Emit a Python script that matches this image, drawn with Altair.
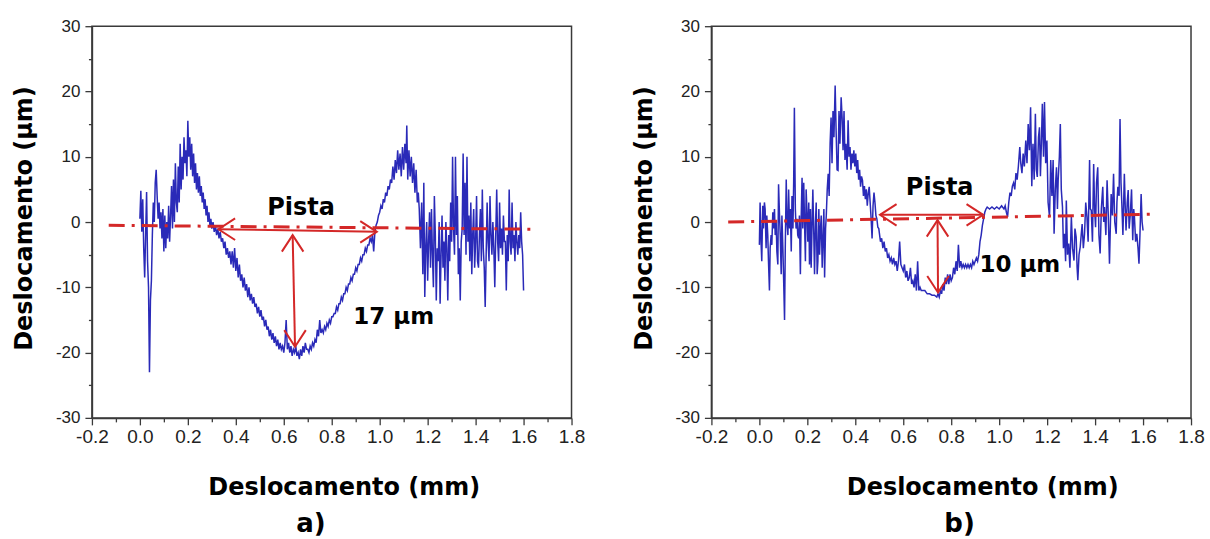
import altair as alt
import pandas as pd

# ---------------- panel a profile (mm, um) ----------------
xa = [0.000, 0.004, 0.008, 0.012, 0.016, 0.020, 0.024, 0.028, 0.032, 0.036, 0.040, 0.044, 0.048, 0.052, 0.056,
      0.060, 0.064, 0.068, 0.072, 0.076, 0.080, 0.084, 0.088, 0.092, 0.096, 0.100, 0.104, 0.108, 0.112, 0.116,
      0.120, 0.124, 0.128, 0.132, 0.136, 0.140, 0.144, 0.148, 0.152, 0.156, 0.160, 0.164, 0.168, 0.172, 0.176,
      0.180, 0.184, 0.188, 0.192, 0.196, 0.200, 0.204, 0.208, 0.212, 0.216, 0.220, 0.224, 0.228, 0.232, 0.236,
      0.240, 0.244, 0.248, 0.252, 0.256, 0.260, 0.264, 0.268, 0.272, 0.276, 0.280, 0.284, 0.288, 0.292, 0.296,
      0.300, 0.305, 0.310, 0.315, 0.320, 0.325, 0.330, 0.335, 0.340, 0.345, 0.350, 0.355, 0.360, 0.365, 0.370,
      0.375, 0.380, 0.385, 0.390, 0.395, 0.400, 0.405, 0.410, 0.415, 0.420, 0.425, 0.430, 0.435, 0.440, 0.445,
      0.450, 0.455, 0.460, 0.465, 0.470, 0.475, 0.480, 0.485, 0.490, 0.495, 0.500, 0.505, 0.510, 0.515, 0.520,
      0.525, 0.530, 0.535, 0.540, 0.545, 0.550, 0.555, 0.560, 0.565, 0.570, 0.575, 0.580, 0.585, 0.590, 0.595,
      0.600, 0.605, 0.610, 0.615, 0.620, 0.625, 0.630, 0.635, 0.640, 0.645, 0.650, 0.655, 0.660, 0.665, 0.670,
      0.675, 0.680, 0.685, 0.690, 0.695, 0.700, 0.705, 0.710, 0.715, 0.720, 0.725, 0.730, 0.735, 0.740, 0.745,
      0.750, 0.755, 0.760, 0.765, 0.770, 0.775, 0.780, 0.785, 0.790, 0.795, 0.800, 0.805, 0.810, 0.815, 0.820,
      0.825, 0.830, 0.835, 0.840, 0.845, 0.850, 0.855, 0.860, 0.865, 0.870, 0.875, 0.880, 0.885, 0.890, 0.895,
      0.900, 0.905, 0.910, 0.915, 0.920, 0.925, 0.930, 0.935, 0.940, 0.945, 0.950, 0.955, 0.960, 0.965, 0.970,
      0.975, 0.980, 0.985, 0.990, 0.995, 1.000, 1.005, 1.010, 1.015, 1.020, 1.025, 1.030, 1.035, 1.040, 1.045,
      1.050, 1.055, 1.060, 1.065, 1.070, 1.075, 1.080, 1.085, 1.090, 1.095, 1.100, 1.105, 1.110, 1.113, 1.117,
      1.122, 1.127, 1.132, 1.137, 1.142, 1.147, 1.152, 1.157, 1.161,
      1.165, 1.170, 1.175, 1.180, 1.184, 1.188, 1.192, 1.196, 1.200, 1.204, 1.208, 1.212, 1.216, 1.220, 1.224,
      1.228, 1.232, 1.236, 1.240, 1.244, 1.248, 1.252, 1.256, 1.260, 1.264, 1.268, 1.272, 1.276, 1.280, 1.284,
      1.288, 1.292, 1.296, 1.300, 1.304, 1.308, 1.312, 1.316, 1.320, 1.324, 1.328, 1.332, 1.336, 1.340, 1.344,
      1.348, 1.352, 1.356, 1.360, 1.364, 1.368, 1.372, 1.376, 1.380, 1.384, 1.388, 1.392, 1.396, 1.400, 1.404,
      1.408, 1.412, 1.416, 1.420, 1.424, 1.428, 1.432, 1.436, 1.440, 1.444, 1.448, 1.452, 1.456, 1.460, 1.464,
      1.468, 1.472, 1.476, 1.480, 1.484, 1.488, 1.492, 1.496, 1.500, 1.504, 1.508, 1.512, 1.516, 1.520, 1.524,
      1.528, 1.532, 1.536, 1.540, 1.544, 1.548, 1.552, 1.556, 1.560, 1.564, 1.568, 1.572, 1.576, 1.580, 1.584,
      1.588, 1.592, 1.596, 1.600]
ya = [0.5, 4.8, -1.5, 3.5, -4, -8.5, -2, 4.6, -6, -10, -23, -12, -9, -2, 3,
      0, 6, 8, 4, 0.5, 3, -1, 1.5, -2.5, 2, -4.5, 1, -4, 0, -2.5,
      2.5, -3, 1, 5.5, -1, 6.5, 0, 9, 3, 1.5, 8.5, 3, 12, 5, 10,
      6.5, 13, 9, 11, 7, 15.5, 10, 13, 8, 12, 7, 10.5, 6, 9, 5,
      7.5, 4.5, 7, 4, 5.5, 3, 4.5, 2, 3.5, 1, 2.5, 0, 1.5, -0.5, 0.5,
      -1, 0, -1.5, -0.5, -2, -1, -2.5, -1.5, -3, -2.5, -4, -3, -5, -4, -5.5,
      -4.5, -6.5, -4.5, -7, -4, -7.5, -5.5, -8.5, -6.5, -9, -8, -10, -8.5, -10.5, -9.5,
      -11.5, -10, -12, -11, -12.5, -11.5, -13, -12.5, -14, -13, -14.5, -13.5, -15, -14.5, -16,
      -15, -16.5, -16, -17.5, -16.5, -18, -17, -18.5, -17.5, -19, -18, -19.5, -18.5, -19.5, -19,
      -20, -18.5, -15, -19.5, -18.5, -20, -19, -20.5, -19.5, -20, -19, -20.5, -20, -21, -19.5,
      -20.5, -19, -20, -18.5, -19.5, -19.5, -20, -19, -19.5, -18.5, -19, -18, -18.5, -16.5, -17.5,
      -15, -17, -16.5, -17, -16, -16.5, -15.5, -16, -15, -15.5, -14.5, -14.5, -14, -14, -13,
      -13.5, -12.5, -12.5, -11.5, -12, -11, -11, -10, -10.5, -9.5, -9.5, -8.5, -9, -8, -8,
      -7, -7.5, -6.5, -6.5, -5.5, -6, -5, -5, -4, -4.5, -3.5, -3.5, -2.5, -3, -2,
      -4.5, -1.5, -0.5, 0, 1, 1.5, 2.5, 2, 3.5, 3, 4.5, 4, 5.5, 5, 6.5,
      6, 8.5, 6.5, 9.5, 7.5, 11, 8, 10.5, 7, 11.5, 8, 12, 9, 14.8, 6.5,
      11, 7, 10, 6, 9, 4.5, 8, 3, 4.5,
      2, -4, 3, -8, 6, -11.5, -4, 0, -9, -3, 1.5, -7, 2, -5, -10,
      4, -2, -12, -4, -6, 0, -12.5, -5, 1, -7, -3, -9, 0, -4, -12,
      -2, -6, 3, -3, 10, -1, -5, 10, -2, 4, -8, -4, -12, -3, -1,
      10.5, -2, 6, -5, 10, -3, 1, -6, 3, -8, -2, 2, -7, -3, 4,
      -6, -7, -2, 2, -6, 5, -4, -7, -13, -5, 3, -3, -6, 4, -2,
      -5, 0, -4, -10, -2, 5, -3, -6, 3, -4, -1, -5, 1, -3, -3,
      -10.5, -2, -6, 5, -3, -5, 3, -4, -2, -6, 0, -3, -5, -2, -4,
      1.5, -3, -5, -10.5]

# ---------------- panel b profile (mm, um) ----------------
xb = [0.000, 0.003, 0.007, 0.010, 0.014, 0.017, 0.021, 0.024, 0.028, 0.031, 0.035, 0.038, 0.042, 0.045, 0.049,
      0.052, 0.056, 0.059, 0.063, 0.066, 0.070, 0.073, 0.077, 0.080, 0.084, 0.087, 0.091, 0.094, 0.098, 0.101,
      0.105, 0.108, 0.112, 0.115, 0.119, 0.122, 0.126, 0.129, 0.133, 0.136, 0.140, 0.143, 0.146, 0.150, 0.153,
      0.157, 0.160, 0.164, 0.167, 0.171, 0.174, 0.178, 0.181, 0.185, 0.188, 0.192, 0.195, 0.199, 0.202, 0.206,
      0.209, 0.213, 0.216, 0.220, 0.223, 0.227, 0.230, 0.234, 0.237, 0.241, 0.244, 0.248, 0.251, 0.255, 0.258,
      0.262, 0.265, 0.269, 0.272, 0.276, 0.279, 0.283, 0.287, 0.291, 0.295, 0.299, 0.303, 0.307, 0.311, 0.316,
      0.320, 0.324, 0.328, 0.332, 0.336, 0.341, 0.345, 0.349, 0.353, 0.357, 0.361, 0.366, 0.370, 0.374, 0.378,
      0.382, 0.386, 0.390, 0.394, 0.398, 0.402, 0.406, 0.410, 0.414, 0.418, 0.422, 0.426, 0.430, 0.434, 0.438,
      0.442, 0.446, 0.450, 0.454, 0.458, 0.462, 0.466, 0.470, 0.474, 0.478, 0.482, 0.486, 0.490, 0.494, 0.498,
      0.505, 0.510, 0.515, 0.520, 0.525, 0.530, 0.535, 0.540, 0.545, 0.550, 0.555, 0.560, 0.565, 0.570, 0.575,
      0.580, 0.585, 0.590, 0.595, 0.600, 0.605, 0.610, 0.615, 0.620, 0.625, 0.630, 0.635, 0.640, 0.645, 0.650,
      0.655, 0.660, 0.665, 0.670, 0.675, 0.680, 0.690, 0.700, 0.710, 0.720, 0.730, 0.740, 0.745, 0.750, 0.755,
      0.760, 0.765, 0.770, 0.775, 0.780, 0.785, 0.790, 0.795, 0.800, 0.805, 0.810, 0.815, 0.820, 0.825, 0.830,
      0.835, 0.840, 0.845, 0.850, 0.855, 0.860, 0.865, 0.870, 0.875, 0.880, 0.885, 0.890, 0.895, 0.900, 0.905,
      0.910, 0.915, 0.920, 0.925, 0.930, 0.935, 0.940, 0.945, 0.950, 0.960, 0.970, 0.980, 0.990, 1.000, 1.010,
      1.020, 1.025, 1.030, 1.035, 1.040, 1.045, 1.050, 1.055, 1.060, 1.065, 1.070, 1.075, 1.080, 1.086, 1.090,
      1.095, 1.100, 1.105, 1.111, 1.116, 1.121, 1.126, 1.131, 1.136, 1.141, 1.146, 1.151, 1.155, 1.159, 1.164,
      1.168, 1.172, 1.176, 1.180, 1.185, 1.189, 1.194, 1.199, 1.204, 1.210, 1.215, 1.220, 1.225, 1.229, 1.234,
      1.239, 1.243, 1.246, 1.251, 1.255, 1.259, 1.264, 1.268, 1.273, 1.277, 1.280, 1.285, 1.290, 1.295, 1.301,
      1.306, 1.312, 1.316, 1.321, 1.325, 1.328, 1.333, 1.338, 1.342, 1.346, 1.351, 1.356, 1.361, 1.366, 1.371,
      1.377, 1.380, 1.384, 1.389, 1.394, 1.398, 1.402, 1.406, 1.411, 1.416, 1.421, 1.426, 1.432, 1.436, 1.439,
      1.445, 1.450, 1.455, 1.460, 1.464, 1.467, 1.472, 1.477, 1.482, 1.488, 1.491, 1.495, 1.500, 1.504, 1.508,
      1.511, 1.516, 1.522, 1.526, 1.529, 1.534, 1.538, 1.542, 1.547, 1.552, 1.557, 1.561, 1.564, 1.569, 1.574,
      1.579, 1.583, 1.587, 1.592, 1.596, 1.600]
yb = [-3.5, 3, -3, -6, 2.5, -1, 3, 2, -4, 1, -2, -6, -10.5, -4, -2,
      -3.5, 1.5, -1, 2, -2, 0, -4.5, -6.5, 5.8, 1, -2, -8, 1, -4, -8.5,
      -15, -4, 6.5, 0, -2, 5, -1, 2, -4.5, 4, -1, 6, 17.5, 2, -1,
      0.5, -2, -2.5, 1, -8, 0, 6.8, -1, 6, 0.5, -6, 5, 1, -3, 3,
      -6.5, 2, -7, 0, 5, -2, -8, 0, 3, -8, -6, 2, -5, -1, 1,
      -7, -3, 2, -8.5, -1, 1, 5, 7.4, 4, 12, 16, 9, 17, 13, 20.9,
      14, 8, 7.9, 17, 12, 19.1, 16, 11, 17, 9.5, 12, 8, 15.6, 10, 11.5,
      8, 10.5, 9, 11, 8.5, 10.5, 7.5, 9.5, 6.5, 8, 5.4, 7, 6.4, 4, 5.5,
      3.5, 5, 2.5, 4.4, 5.4, 3, 0.5, -2.5, 2.5, 4.5, 3, 1, 0.5, -0.8, -1,
      -3, -2.5, -4, -3, -4.5, -4, -5.5, -5, -6, -5.5, -6.5, -5.5, -6.5, -6, -7.5,
      -6, -3, -6.5, -7, -7.5, -6.5, -8.5, -7.5, -9, -8.5, -7, -9.5, -9, -10, -8,
      -10.5, -6, -10.5, -10, -10.5, -10.5, -10.5, -11, -11, -11.2, -11.2, -11.5, -11, -11.5, -10.5,
      -11, -9.5, -10.5, -8.5, -9.5, -8, -9.5, -8, -9, -8.5, -7, -8, -6, -7.5, -3.5,
      -7, -6, -7, -6.5, -7, -6.5, -7, -6.5, -7, -6.5, -7, -6, -6.5, -6, -5.5,
      -6, -5, -3, -2, -0.5, 0.5, 1.5, 2, 2.3, 2, 2.3, 2, 2.3, 2, 2.5,
      2, 2.5, 1.5, 0.8, 3, 4.5, 4, 5.5, 6, 5, 7.5, 6.5, 8.5, 11.5, 9,
      7.5, 10.5, 8.5, 12.5, 9, 15, 11, 17.6, 5.5, 12, 6.5, 16.6, 8, 6.9, 13,
      14.5, 7, 12, 18.1, 10, 18.4, 9, 12.5, 3, 0.8, 9.5, 4, 9.5, -1.8, 5,
      8.4, 2, 6.4, 10, 15, 5, 2.3, -4, -1.8, -6, 3.3, -5, -3.3, -7, 0.8,
      -4, -5.9, -1, -2.3, -7, -8.9, -5, -3.8, -2, -0.3, -4, -1.8, 3, 0.8, -3,
      9.5, 2, 1.8, -3, 8.9, 2, -0.8, 6, 8.4, -2, -4.8, 2, 5.4, 0, 2.3,
      -2, 6.4, 1, -6.4, 0, 4.3, 1, 7.4, 0, -1.8, 3, 5.4, 4, 15.8, 6,
      3.3, -2, 7.4, 2, -1.3, 3, 4.9, -1, 1.3, 5, -2.8, 2, 0.8, -3, -1.8,
      -4, -6.4, -2, 4.3, 0, -1.3]

# ---------------- annotations ----------------
ref_x = [-0.13, 1.65]          # dash-dot reference line ends
ref_a_y = [-0.5, -1.1]
ref_b_y = [0.0, 1.2]

# horizontal ("Pista") and vertical (depth) double arrows: [start, end]
span_a_x, span_a_y = [0.328, 0.988], [-1.1, -1.5]
depth_a_x, depth_a_y = [0.637, 0.647], [-2.0, -19.1]
span_b_x, span_b_y = [0.503, 0.933], [1.1, 1.1]
depth_b_x, depth_b_y = [0.743, 0.745], [0.3, -10.8]

labels_a = ["Pista", "17 µm", "a)"]
labels_b = ["Pista", "10 µm", "b)"]
lab_a_x, lab_a_y = [0.672, 0.89, 0.713], [1.1, -15.6, -47.5]
lab_b_x, lab_b_y = [0.752, 0.918, 0.835], [4.2, -7.7, -47.5]

x_major = [-0.2, 0.0, 0.2, 0.4, 0.6, 0.8, 1.0, 1.2, 1.4, 1.6, 1.8]
x_minor = [-0.1, 0.1, 0.3, 0.5, 0.7, 0.9, 1.1, 1.3, 1.5, 1.7]
y_major = [-30, -20, -10, 0, 10, 20, 30]
y_minor = [-25, -15, -5, 5, 15, 25]

RED = "#d42828"
BLUE = "#2a2ab8"
AXC = "#3a3a3a"
TITLE_FONT = "DejaVu Sans"
W, H = 480, 392

xs = alt.Scale(domain=[-0.2, 1.8], nice=False, zero=False)
ys = alt.Scale(domain=[-30, 30], nice=False, zero=False)


def panel(px, py, refy, sx, sy, dx, dy, labs, lx, ly, title_x):
    prof = pd.DataFrame({"x": px, "y": py})
    ref = pd.DataFrame({"x": ref_x, "y": refy})
    rules = pd.DataFrame({"x1": [sx[0], dx[0]], "y1": [sy[0], dy[0]],
                          "x2": [sx[1], dx[1]], "y2": [sy[1], dy[1]]})
    heads = pd.DataFrame({"x": [sx[0], sx[1], dx[0], dx[1]],
                          "y": [sy[0], sy[1], dy[0], dy[1]],
                          "a": [180, 0, 270, 90]})
    big = pd.DataFrame({"x": [lx[0], lx[1]], "y": [ly[0], ly[1]], "t": [labs[0], labs[1]],
                        "al": ["center", "left"]})
    cap = pd.DataFrame({"x": [lx[2]], "y": [ly[2]], "t": [labs[2]]})

    ax_x = alt.Axis(orient="bottom", values=x_major,
                    labelExpr="replace(format(datum.value, '.1f'), '\u2212', '-')",
                    tickSize=7, tickWidth=1.3, tickColor=AXC, domainColor=AXC, domainWidth=1.5,
                    labelFont="Liberation Sans Narrow, Liberation Sans",
                    labelFontSize=19, labelColor="#222222", labelPadding=3,
                    labelFlush=False, labelOverlap=False, grid=False,
                    title="Deslocamento (mm)", titleFont=TITLE_FONT, titleFontWeight="bold",
                    titleFontSize=24, titleColor="black", titleX=title_x, titleY=77,
                    titleBaseline="alphabetic", titleAlign="center")
    ax_y = alt.Axis(orient="left", values=y_major,
                    labelExpr="replace(format(datum.value, 'd'), '\u2212', '-')",
                    tickSize=7, tickWidth=1.3, tickColor=AXC, domainColor=AXC, domainWidth=1.5,
                    labelFont="Liberation Sans", labelFontSize=17, labelColor="#222222",
                    labelPadding=5, labelFlush=False, labelOverlap=False, grid=False,
                    title="Deslocamento (µm)", titleFont=TITLE_FONT, titleFontWeight="bold",
                    titleFontSize=24, titleColor="black", titleX=-60, titleY=192,
                    titleAngle=270, titleBaseline="alphabetic", titleAlign="center")
    ax_x_minor = alt.Axis(orient="bottom", values=x_minor, labels=False, tickSize=4,
                          tickWidth=1.3, tickColor=AXC, domain=False, grid=False, title="")
    ax_y_minor = alt.Axis(orient="left", values=y_minor, labels=False, tickSize=3.5,
                          tickWidth=1.3, tickColor=AXC, domain=False, grid=False, title="")

    line = alt.Chart(prof).mark_line(color=BLUE, strokeWidth=1.5).encode(
        x=alt.X("x:Q", scale=xs, axis=ax_x),
        y=alt.Y("y:Q", scale=ys, axis=ax_y))
    dash = alt.Chart(ref).mark_line(color=RED, strokeWidth=3, strokeDash=[16, 7, 3, 7]).encode(
        x=alt.X("x:Q", scale=xs, axis=ax_x_minor),
        y=alt.Y("y:Q", scale=ys, axis=ax_y_minor))
    arrows = alt.Chart(rules).mark_rule(color=RED, strokeWidth=2).encode(
        x=alt.X("x1:Q", scale=xs, axis=None), y=alt.Y("y1:Q", scale=ys, axis=None),
        x2="x2:Q", y2="y2:Q")
    tips = alt.Chart(heads).mark_point(shape="M-1,-0.65L0,0L-1,0.65", filled=False, size=1100,
                                       strokeWidth=2, color=RED, opacity=1).encode(
        x=alt.X("x:Q", scale=xs, axis=None), y=alt.Y("y:Q", scale=ys, axis=None),
        angle=alt.Angle("a:Q", scale=None))
    t1 = alt.Chart(big[big.al == "center"]).mark_text(
        font=TITLE_FONT, fontWeight="bold", fontSize=24, baseline="alphabetic", align="center",
        color="black").encode(x=alt.X("x:Q", scale=xs, axis=None),
                              y=alt.Y("y:Q", scale=ys, axis=None), text="t:N")
    t2 = alt.Chart(big[big.al == "left"]).mark_text(
        font=TITLE_FONT, fontWeight="bold", fontSize=23, baseline="alphabetic", align="left",
        color="black").encode(x=alt.X("x:Q", scale=xs, axis=None),
                              y=alt.Y("y:Q", scale=ys, axis=None), text="t:N")
    t3 = alt.Chart(cap).mark_text(
        font=TITLE_FONT, fontWeight="bold", fontSize=26, baseline="alphabetic", align="center",
        color="black").encode(x=alt.X("x:Q", scale=xs, axis=None),
                              y=alt.Y("y:Q", scale=ys, axis=None), text="t:N")
    return alt.layer(line, dash, arrows, tips, t1, t2, t3).resolve_axis(
        x="independent", y="independent").properties(
        width=W, height=H, view=alt.ViewBackground(stroke="#3a3a3a", strokeWidth=1.5))


pa = panel(xa, ya, ref_a_y, span_a_x, span_a_y, depth_a_x, depth_a_y, labels_a, lab_a_x, lab_a_y, 252)
pb = panel(xb, yb, ref_b_y, span_b_x, span_b_y, depth_b_x, depth_b_y, labels_b, lab_b_x, lab_b_y, 271)

chart = alt.hconcat(pa, pb, spacing=140, bounds="flush").properties(
    padding={"left": 12, "top": 16, "right": 5, "bottom": 0}
).configure_view(stroke="#3a3a3a", strokeWidth=1.5).configure(background="white")

chart.save("out.html", embed_options={"renderer": "svg", "actions": False})
